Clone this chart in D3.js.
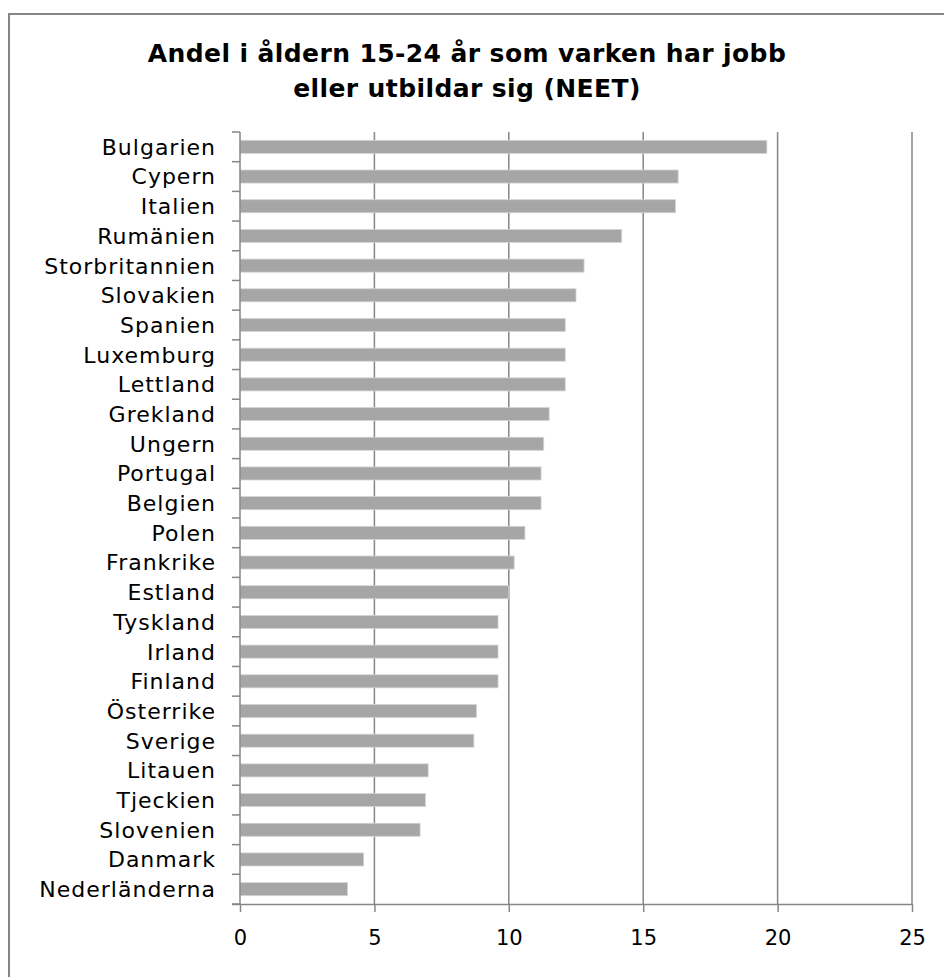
<!DOCTYPE html>
<html>
<head>
<meta charset="utf-8">
<script src="https://cdn.jsdelivr.net/npm/d3@7"></script>
<style>
  body { margin: 0; background: #fff; }
  svg { display: block; }
  text { font-family: "DejaVu Sans", Verdana, sans-serif; fill: #000; }
</style>
</head>
<body>
<div id="chart"></div>
<script>
// data
const countries = ['Bulgarien', 'Cypern', 'Italien', 'Rumänien', 'Storbritannien', 'Slovakien',
  'Spanien', 'Luxemburg', 'Lettland', 'Grekland', 'Ungern', 'Portugal', 'Belgien', 'Polen',
  'Frankrike', 'Estland', 'Tyskland', 'Irland', 'Finland', 'Österrike', 'Sverige', 'Litauen',
  'Tjeckien', 'Slovenien', 'Danmark', 'Nederländerna'];
const neet = [19.6, 16.3, 16.2, 14.2, 12.8, 12.5, 12.1, 12.1, 12.1, 11.5, 11.3, 11.2, 11.2, 10.6,
  10.2, 10.0, 9.6, 9.6, 9.6, 8.8, 8.7, 7.0, 6.9, 6.7, 4.6, 4.0];
const xTicks = [0, 5, 10, 15, 20, 25];
const titleLines = ['Andel i åldern 15-24 år som varken har jobb', 'eller utbildar sig (NEET)'];

const W = 944, H = 977;
const PLOT_LEFT = 240, PLOT_RIGHT = 912, PLOT_TOP = 132, PLOT_BOTTOM = 904;
const GRID = '#868686';

const svg = d3.select('#chart')
  .append('svg')
  .attr('width', W)
  .attr('height', H);

// outer chart border (runs off the right and bottom edge)
svg.append('rect')
  .attr('x', 9)
  .attr('y', 14)
  .attr('width', W + 20)
  .attr('height', H + 20)
  .attr('fill', '#fff')
  .attr('stroke', GRID)
  .attr('stroke-width', 2);

// title
svg.append('text')
  .attr('x', 467)
  .attr('y', 62)
  .attr('text-anchor', 'middle')
  .style('font-weight', 'bold')
  .style('font-size', '25px')
  .style('letter-spacing', '0.4px')
  .selectAll('tspan')
  .data(titleLines)
  .enter()
  .append('tspan')
  .attr('x', 467)
  .attr('dy', (d, i) => i === 0 ? 0 : 35)
  .text(d => d);

const x = d3.scaleLinear()
  .domain([0, 25])
  .range([PLOT_LEFT, PLOT_RIGHT]);

const y = d3.scaleBand()
  .domain(countries)
  .range([PLOT_TOP, PLOT_BOTTOM])
  .paddingInner(0.56)
  .paddingOuter(0.28);

// vertical gridlines
svg.selectAll('.grid')
  .data(xTicks.slice(1))
  .enter()
  .append('line')
  .attr('class', 'grid')
  .attr('x1', d => x(d))
  .attr('x2', d => x(d))
  .attr('y1', PLOT_TOP)
  .attr('y2', PLOT_BOTTOM)
  .attr('stroke', GRID)
  .attr('stroke-width', 1.5);

// bars
svg.selectAll('.bar')
  .data(neet)
  .enter()
  .append('rect')
  .attr('class', 'bar')
  .attr('x', x(0))
  .attr('y', (d, i) => y(countries[i]))
  .attr('width', d => x(d) - x(0))
  .attr('height', y.bandwidth())
  .attr('fill', '#a6a6a6')
  .attr('stroke', '#d4d4d4')
  .attr('stroke-width', 0.8);

// y axis: line, ticks at band edges, labels
const step = y.step();
svg.append('line')
  .attr('x1', PLOT_LEFT).attr('x2', PLOT_LEFT)
  .attr('y1', PLOT_TOP).attr('y2', PLOT_BOTTOM)
  .attr('stroke', GRID).attr('stroke-width', 1.5);

svg.selectAll('.ytick')
  .data(d3.range(countries.length + 1))
  .enter()
  .append('line')
  .attr('class', 'ytick')
  .attr('x1', PLOT_LEFT - 8).attr('x2', PLOT_LEFT)
  .attr('y1', i => PLOT_TOP + i * step)
  .attr('y2', i => PLOT_TOP + i * step)
  .attr('stroke', GRID).attr('stroke-width', 1.5);

svg.selectAll('.ylabel')
  .data(countries)
  .enter()
  .append('text')
  .attr('class', 'ylabel')
  .attr('x', 216)
  .attr('y', d => y(d) + y.bandwidth() / 2)
  .attr('dy', '0.36em')
  .attr('text-anchor', 'end')
  .style('font-size', '22px')
  .style('letter-spacing', '1px')
  .text(d => d);

// x axis
const xAxis = svg.append('g')
  .attr('transform', `translate(0,${PLOT_BOTTOM})`)
  .call(d3.axisBottom(x).tickValues(xTicks).tickSize(8).tickPadding(18).tickSizeOuter(0));

xAxis.select('.domain')
  .attr('stroke', GRID)
  .attr('stroke-width', 1.5)
  .attr('d', `M${PLOT_LEFT - 8},0.5H${PLOT_RIGHT}`);
xAxis.selectAll('.tick line')
  .attr('stroke', GRID)
  .attr('stroke-width', 1.5);
xAxis.selectAll('.tick text')
  .style('font-family', '"DejaVu Sans", Verdana, sans-serif')
  .style('font-size', '21px')
  .attr('fill', '#000');
</script>
</body>
</html>
